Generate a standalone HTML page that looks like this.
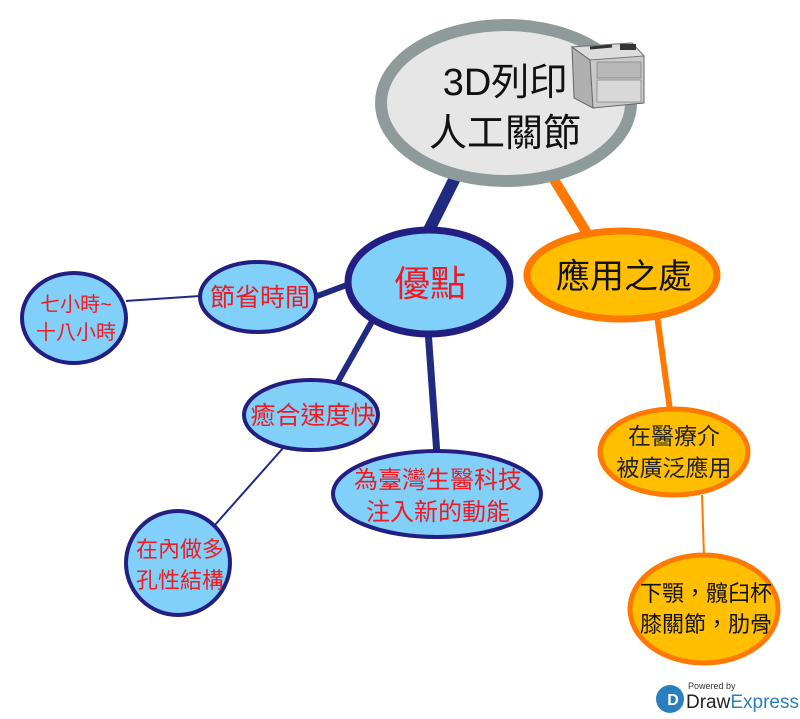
<!DOCTYPE html>
<html><head><meta charset="utf-8"><style>
html,body{margin:0;padding:0;background:#fff;width:800px;height:719px;overflow:hidden}
text{font-family:"Liberation Sans","Noto Sans CJK TC",sans-serif}
</style></head><body>
<svg width="800" height="719" viewBox="0 0 800 719" xmlns="http://www.w3.org/2000/svg">
<g stroke-linecap="butt">
<line x1="455" y1="178" x2="425" y2="238" stroke="#1f2a80" stroke-width="12"/>
<line x1="553" y1="178" x2="590" y2="238" stroke="#ff7800" stroke-width="10"/>
<line x1="352" y1="283" x2="312" y2="298" stroke="#1f2a80" stroke-width="6"/>
<line x1="374" y1="318" x2="336" y2="385" stroke="#1f2a80" stroke-width="6"/>
<line x1="428" y1="330" x2="437" y2="455" stroke="#1f2a80" stroke-width="7"/>
<line x1="200" y1="296" x2="126" y2="301" stroke="#1f2a80" stroke-width="2"/>
<line x1="284" y1="447" x2="214" y2="526" stroke="#1f2a80" stroke-width="2"/>
<line x1="657" y1="315" x2="670" y2="410" stroke="#ff7800" stroke-width="6"/>
<line x1="702" y1="495" x2="704" y2="556" stroke="#ff7800" stroke-width="2"/>
</g>
<ellipse cx="506" cy="103" rx="125" ry="78" fill="#e6e6e6" stroke="#8f9b9b" stroke-width="12"/>
<g stroke-width="1">
<path d="M572 47 L593 108 L644 103 L644 56 L632 43 Z" fill="#c9c9c9" stroke="#666"/>
<path d="M572 47 L632 43 L644 56 L590 60 Z" fill="#dcdcdc" stroke="#777"/>
<path d="M572 47 L590 60 L593 108 L574 98 Z" fill="#b0b0b0" stroke="#666"/>
<rect x="597" y="62" width="44" height="16" fill="#b8b8b8" stroke="#888" stroke-width="0.8"/>
<rect x="597" y="80" width="44" height="22" fill="#d8d8d8" stroke="#888" stroke-width="0.8"/>
<path d="M590 48 L612 46" stroke="#333" stroke-width="3"/>
<rect x="620" y="44" width="16" height="6" fill="#333"/>
</g>
<text x="505" y="95" font-size="38" text-anchor="middle" fill="#111">3D列印</text>
<text x="505" y="146" font-size="38" text-anchor="middle" fill="#111">人工關節</text>

<ellipse cx="429" cy="282" rx="81" ry="52" fill="#80d0fa" stroke="#231f82" stroke-width="7"/>
<text x="430" y="296" font-size="36" text-anchor="middle" fill="#f01a22">優點</text>

<ellipse cx="622" cy="275" rx="95" ry="44" fill="#ffbf00" stroke="#ff7800" stroke-width="7"/>
<text x="624" y="288" font-size="34" text-anchor="middle" fill="#111">應用之處</text>

<ellipse cx="258" cy="297" rx="58" ry="35" fill="#80d0fa" stroke="#231f82" stroke-width="4"/>
<text x="260" y="306" font-size="25" text-anchor="middle" fill="#f01a22">節省時間</text>

<ellipse cx="74" cy="318" rx="52" ry="45" fill="#80d0fa" stroke="#231f82" stroke-width="4"/>
<text x="76" y="311" font-size="20" text-anchor="middle" fill="#f01a22">七小時~</text>
<text x="76" y="339" font-size="20" text-anchor="middle" fill="#f01a22">十八小時</text>

<ellipse cx="311" cy="415" rx="67" ry="35" fill="#80d0fa" stroke="#231f82" stroke-width="4"/>
<text x="313" y="424" font-size="25" text-anchor="middle" fill="#f01a22">癒合速度快</text>

<ellipse cx="437" cy="494" rx="104" ry="43" fill="#80d0fa" stroke="#231f82" stroke-width="4"/>
<text x="438" y="488" font-size="24" text-anchor="middle" fill="#f01a22">為臺灣生醫科技</text>
<text x="438" y="520" font-size="24" text-anchor="middle" fill="#f01a22">注入新的動能</text>

<ellipse cx="178" cy="563" rx="52" ry="52" fill="#80d0fa" stroke="#231f82" stroke-width="4"/>
<text x="180" y="557" font-size="22" text-anchor="middle" fill="#f01a22">在內做多</text>
<text x="180" y="588" font-size="22" text-anchor="middle" fill="#f01a22">孔性結構</text>

<ellipse cx="674" cy="452" rx="74" ry="43" fill="#ffbf00" stroke="#ff7800" stroke-width="5"/>
<text x="674" y="444" font-size="23" text-anchor="middle" fill="#222">在醫療介</text>
<text x="674" y="476" font-size="23" text-anchor="middle" fill="#222">被廣泛應用</text>

<ellipse cx="704" cy="609" rx="74" ry="54" fill="#ffbf00" stroke="#ff7800" stroke-width="5"/>
<text x="706" y="601" font-size="22" text-anchor="middle" fill="#111">下顎，髖臼杯</text>
<text x="706" y="632" font-size="22" text-anchor="middle" fill="#111">膝關節，肋骨</text>

<circle cx="670" cy="699" r="14" fill="#2a7fc0"/>
<text x="673" y="705" font-size="16" font-weight="bold" text-anchor="middle" fill="#fff">D</text>
<text x="688" y="689" font-size="9" fill="#333">Powered by</text>
<text x="686" y="708" font-size="19" fill="#222">Draw<tspan fill="#2a7fc0">Express</tspan></text>
</svg>
</body></html>
